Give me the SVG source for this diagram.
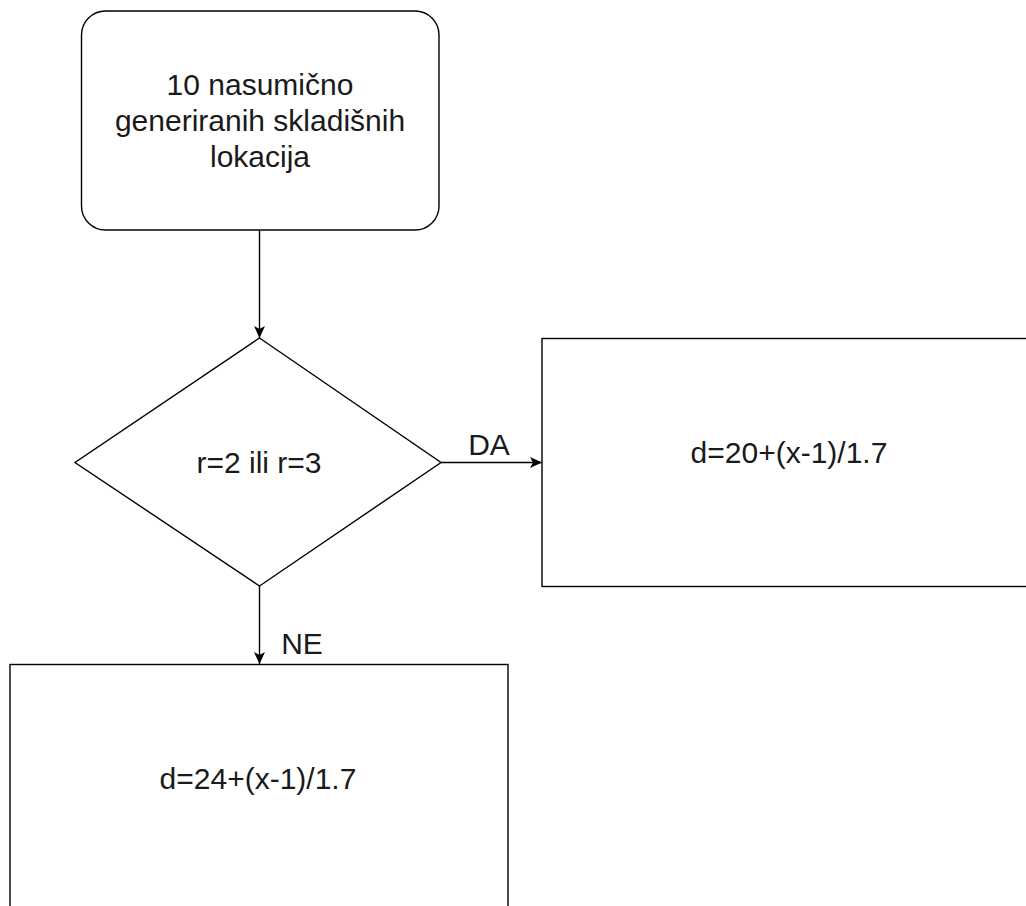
<svg xmlns="http://www.w3.org/2000/svg" width="1026" height="906" viewBox="0 0 1026 906">
<style>
.shape{fill:#ffffff;stroke:#000000;stroke-width:1.4}
.edge{fill:none;stroke:#000000;stroke-width:1.4}
text{font-family:"Liberation Sans",Arial,sans-serif;font-size:30px;fill:#1a1a1a}
.c{text-anchor:middle}
</style>
<defs>
<marker id="arr" viewBox="0 0 12 12" refX="12" refY="6" markerWidth="12" markerHeight="12" markerUnits="userSpaceOnUse" orient="auto">
<path d="M0,0.5 L12,6 L0,11.5 L3,6 Z" fill="#000000"/>
</marker>
</defs>
<rect width="1026" height="906" fill="#ffffff"/>
<g id="connectors">
<path class="edge" d="M259.5,230 L259.5,338" marker-end="url(#arr)"/>
<path class="edge" d="M441,462.5 L542,462.5" marker-end="url(#arr)"/>
<path class="edge" d="M259.5,586 L259.5,664" marker-end="url(#arr)"/>
<text x="489" y="455" class="c">DA</text>
<text x="302" y="654" class="c">NE</text>
</g>
<g id="start">
<rect class="shape" x="81.5" y="11" width="357.5" height="219" rx="24" ry="24"/>
<text x="260" y="94.5" class="c">10 nasumično</text>
<text x="260" y="130.5" class="c">generiranih skladišnih</text>
<text x="260" y="166.5" class="c">lokacija</text>
</g>
<g id="decision">
<polygon class="shape" points="259.5,338 441,462.5 259.5,586 75,462.5"/>
<text x="259" y="473" class="c">r=2 ili r=3</text>
</g>
<g id="da">
<rect class="shape" x="542" y="338.5" width="500" height="248"/>
<text x="789" y="463" class="c">d=20+(x-1)/1.7</text>
</g>
<g id="ne">
<rect class="shape" x="10" y="664.5" width="498" height="300"/>
<text x="258" y="789" class="c">d=24+(x-1)/1.7</text>
</g>
</svg>
